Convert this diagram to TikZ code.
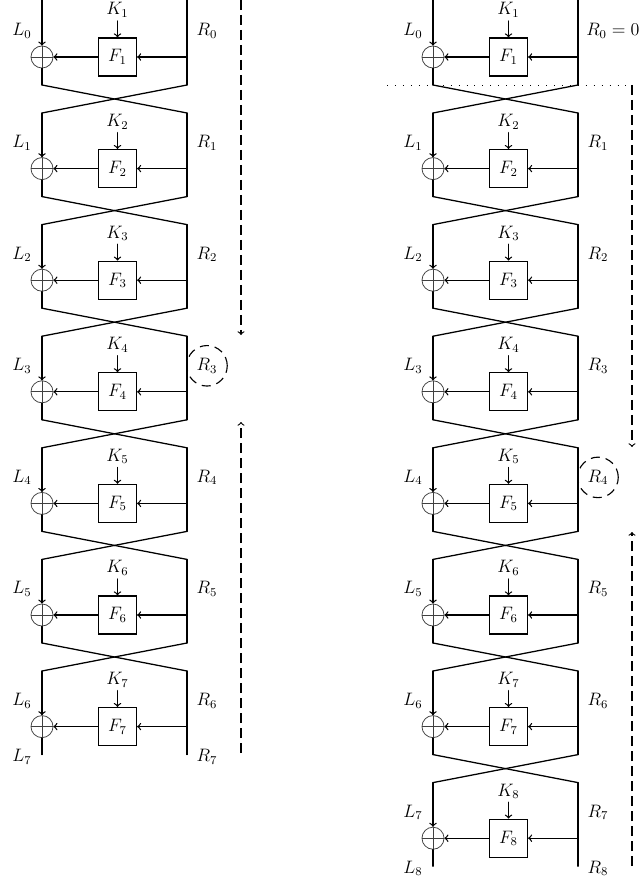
\documentclass[tikz,border=0pt]{standalone}
\tikzset{
  wire/.style={line width=0.85pt, line cap=round},
  arr/.style={->},
  fbox/.style={draw, line width=0.85pt, minimum size=25.3pt, inner sep=0pt, font=\large},
  xorc/.style={circle, draw=black!75, line width=0.5pt, minimum size=14.7pt, inner sep=0pt,
    path picture={\draw[line width=0.5pt, black!75] (path picture bounding box.north) -- (path picture bounding box.south) (path picture bounding box.west) -- (path picture bounding box.east);}},
  lab/.style={inner sep=0pt, font=\large},
  dsh/.style={line width=0.75pt, dash pattern=on 6.5pt off 3.5pt},
  ring/.style={circle, draw, line width=0.75pt, dash pattern=on 6pt off 4pt, minimum size=27pt, inner sep=0pt},
  dotl/.style={line width=0.6pt, dash pattern=on 0.6pt off 4.7pt},
}
\newcommand\feistelnet[3]{%
  \foreach \i in {0,...,#3}{%
    \pgfmathsetmacro\yy{\i*111.6}%
    \pgfmathtruncatemacro\jj{\i+1}%
    \pgfmathtruncatemacro\pp{\i-1}%
    \pgfmathsetmacro\yt{\i==0 ? 0 : \yy+1.4}%
    \coordinate (#1LT\i) at (#2+42,\yt);
    \coordinate (#1RT\i) at (#2+187,\yt);
    \coordinate (#1RF\i) at (#2+187,\yy+57);
    \coordinate (#1LB\i) at (#2+42,\yy+85);
    \coordinate (#1RB\i) at (#2+187,\yy+85);
    \coordinate (#1KA\i) at (#2+117.5,\yy+21);
    \node[lab] (#1K\jj) at (#2+117.5,\yy+10) {$K_{\jj}$};
    \node[fbox] (#1F\jj) at (#2+117.5,\yy+57) {$F_{\jj}$};
    \node[xorc] (#1X\jj) at (#2+42,\yy+57) {};
    \node[lab] (#1L\i) at (#2+22,\yy+31) {$L_{\i}$};
    \ifnum\i>0 \node[lab] (#1R\i) at (#2+207,\yy+31) {$R_{\i}$};\fi
    \draw[wire,arr] (#1LT\i) -- (#1X\jj.north);
    \draw[wire] (#1RT\i) -- (#1RB\i);
    \draw[wire,arr] (#1RF\i) -- (#1F\jj.east);
    \draw[wire,arr] (#1F\jj.west) -- (#1X\jj.east);
    \draw[wire,arr] (#1KA\i) -- (#1F\jj.north);
    \draw[wire] (#1X\jj.south) -- (#1LB\i);
    \ifnum\i>0
      \draw[wire] (#1LB\pp) -- (#1RT\i);
      \draw[wire] (#1RB\pp) -- (#1LT\i);
    \fi
  }%
  \pgfmathtruncatemacro\nn{#3+1}%
  \node[lab] (#1L\nn) at (#2+22,#3*111.6+87) {$L_{\nn}$};
  \node[lab] (#1R\nn) at (#2+207,#3*111.6+87) {$R_{\nn}$};
}
\begin{document}
\begin{tikzpicture}[x=0.6667pt, y=-0.6667pt]
  \useasboundingbox (0,0) rectangle (642,879);
  % left network
  \feistelnet{a}{0}{6}
  \node[lab] (aR0) at (207,31) {$R_0$};
  \node[ring] (aC) at (aR3) {};
  \coordinate (aD0) at (241,0);
  \coordinate (aD1) at (241,335);
  \coordinate (aU0) at (241,753);
  \coordinate (aU1) at (241,422);
  \draw[dsh,->] (aD0) -- (aD1);
  \draw[dsh,->] (aU0) -- (aU1);
  % right network
  \feistelnet{b}{391}{7}
  \node[lab, anchor=west] (bR0) at (586,31) {$R_0 = 0$};
  \node[ring] (bC) at (bR4) {};
  \coordinate (bS) at (387,85);
  \coordinate (bD0) at (632,85);
  \coordinate (bD1) at (632,447);
  \coordinate (bU0) at (632,866);
  \coordinate (bU1) at (632,532);
  \draw[dotl] (bS) -- (bD0);
  \draw[dsh,->] (bD0) -- (bD1);
  \draw[dsh,->] (bU0) -- (bU1);
\end{tikzpicture}
\end{document}
